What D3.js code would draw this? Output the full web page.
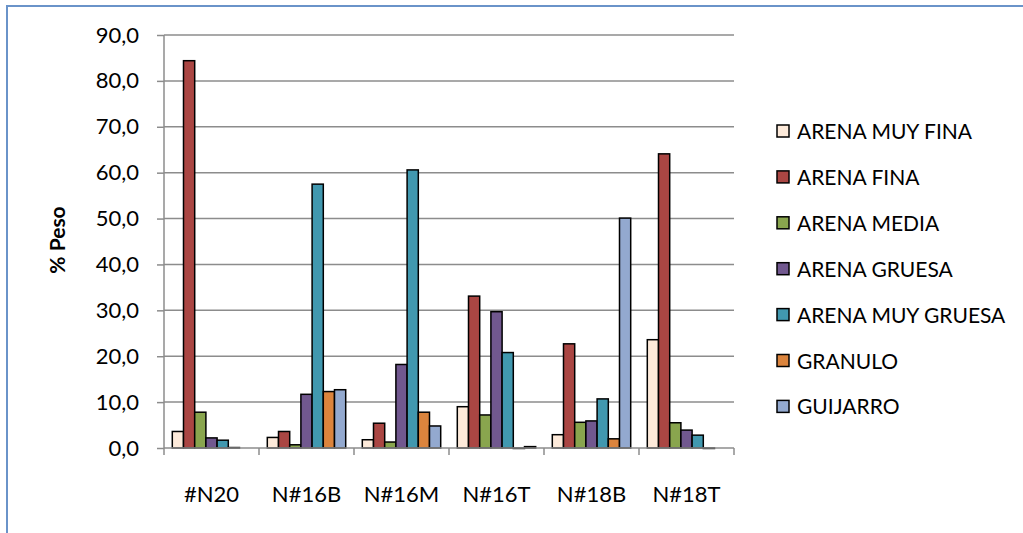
<!DOCTYPE html>
<html><head><meta charset="utf-8">
<script src="https://cdn.jsdelivr.net/npm/d3@7"></script>
<style>
html,body{margin:0;padding:0;background:#fff;}
svg{display:block;}
text{font-family:Lato,"Open Sans",sans-serif;fill:#000;}
</style></head>
<body><svg id="c" width="1023" height="533"></svg>
<script>
const categories = ["#N20","N#16B","N#16M","N#16T","N#18B","N#18T"];
const seriesNames = ["ARENA MUY FINA","ARENA FINA","ARENA MEDIA","ARENA GRUESA","ARENA MUY GRUESA","GRANULO","GUIJARRO"];
const arenaMuyFina   = [3.6, 2.3, 1.8, 9.0, 2.9, 23.6];
const arenaFina      = [84.4, 3.6, 5.4, 33.1, 22.7, 64.1];
const arenaMedia     = [7.8, 0.7, 1.3, 7.2, 5.6, 5.5];
const arenaGruesa    = [2.2, 11.7, 18.2, 29.7, 5.9, 3.9];
const arenaMuyGruesa = [1.7, 57.5, 60.6, 20.8, 10.7, 2.8];
const granulo        = [0.1, 12.3, 7.8, -0.1, 2.0, -0.1];
const guijarro       = [null, 12.7, 4.8, 0.3, 50.1, null];
const seriesValues = [arenaMuyFina, arenaFina, arenaMedia, arenaGruesa, arenaMuyGruesa, granulo, guijarro];
const colors = ["#FDEADA","#AA4643","#89A54E","#71588F","#4198AF","#DB843D","#93A9CF"];
const yTicks = [0,10,20,30,40,50,60,70,80,90];

const svg = d3.select("#c");
// outer frame
svg.append("rect").attr("x",7).attr("y",6).attr("width",1030).attr("height",540)
  .attr("fill","none").attr("stroke","#6A93C9").attr("stroke-width",2);

const L=164, R=734, T=35, B=448;
const x = d3.scaleBand().domain(categories).range([L,R]).paddingInner(0).paddingOuter(0);
const y = d3.scaleLinear().domain([0,90]).range([B,T]);
const barPad = 8.3;
const x1 = d3.scaleBand().domain(d3.range(seriesNames.length)).range([barPad, x.bandwidth()-barPad]);

const gridCol="#8C8C8C";
// gridlines
svg.append("g").selectAll("line").data(yTicks.filter(d=>d>0)).join("line")
  .attr("x1",L).attr("x2",R).attr("y1",d=>y(d)).attr("y2",d=>y(d))
  .attr("stroke",gridCol).attr("stroke-width",1.5);

// y axis
const yAxis = svg.append("g").attr("transform",`translate(${L},0)`)
  .call(d3.axisLeft(y).tickValues(yTicks).tickSize(7).tickPadding(18)
    .tickFormat(d=>d3.format(".1f")(d).replace(".",",")));
yAxis.select(".domain").attr("stroke",gridCol).attr("stroke-width",1.5).attr("d",`M0,${T}V${B}`);
yAxis.selectAll(".tick line").attr("stroke",gridCol).attr("stroke-width",1.5);
yAxis.selectAll(".tick text").attr("font-size",22).attr("font-family","Lato").attr("fill","#000");

// bars
const groups = svg.append("g").selectAll("g").data(categories).join("g")
  .attr("transform",d=>`translate(${x(d)},0)`);
groups.selectAll("rect").data((c,ci)=>seriesValues.map((s,si)=>({si,v:s[ci]})).filter(d=>d.v!==null))
  .join("rect")
  .attr("x",d=>x1(d.si)).attr("width",x1.bandwidth())
  .attr("y",d=>Math.min(y(d.v),y(0))).attr("height",d=>Math.abs(y(d.v)-y(0)))
  .attr("fill",d=>colors[d.si]).attr("stroke","#000").attr("stroke-width",1.5);

// x axis
const xAxis = svg.append("g").attr("transform",`translate(0,${B})`)
  .call(d3.axisBottom(x).tickSize(0).tickPadding(38));
xAxis.select(".domain").attr("stroke",gridCol).attr("stroke-width",1.5).attr("d",`M${L},0H${R}`);
xAxis.selectAll(".tick text").attr("font-size",22).attr("font-family","Lato").attr("fill","#000");
svg.append("g").selectAll("line").data(d3.range(categories.length+1)).join("line")
  .attr("x1",i=>L+i*x.bandwidth()).attr("x2",i=>L+i*x.bandwidth())
  .attr("y1",B).attr("y2",B+7).attr("stroke",gridCol).attr("stroke-width",1.5);

// y title
svg.append("text").attr("transform","translate(65,240) rotate(-90)")
  .attr("text-anchor","middle").attr("font-weight","bold").attr("font-size",21).text("% Peso");

// legend
const leg = svg.append("g").selectAll("g").data(seriesNames).join("g")
  .attr("transform",(d,i)=>`translate(777,${131+i*45.9})`);
leg.append("rect").attr("x",0).attr("y",-6).attr("width",12).attr("height",12)
  .attr("fill",(d,i)=>colors[i]).attr("stroke","#000").attr("stroke-width",1.5);
leg.append("text").attr("x",20).attr("y",8).attr("font-size",21).text(d=>d);
</script></body></html>
